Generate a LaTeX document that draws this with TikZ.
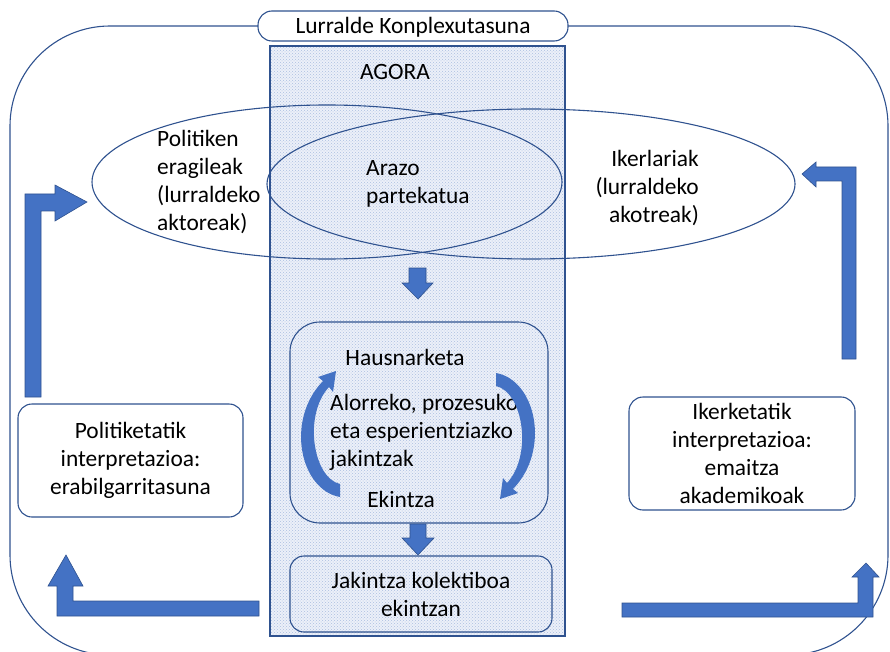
\documentclass[tikz,border=0pt]{standalone}
\usepackage{fontspec}
\setmainfont{Carlito}
\usepackage{tikz}
\usetikzlibrary{shapes.geometric, patterns, positioning}

\definecolor{linecol}{RGB}{47,82,143}
\definecolor{arrowfill}{RGB}{68,114,196}
\definecolor{agorafill}{RGB}{236,240,249}
\definecolor{dotcol}{RGB}{172,190,224}

\tikzset{
    outline/.style={draw=linecol, line width=1.1pt},
    roundbox/.style={outline, rounded corners=14pt, inner sep=0pt},
    txt/.style={inner sep=0pt, font=\fontsize{23.4}{28}\selectfont},
    blockarrow/.style={fill=arrowfill, draw=linecol, line width=0.6pt}
}

\begin{document}
\begin{tikzpicture}[x=1pt, y=-1pt]
        \useasboundingbox (0,0) rectangle (890,652);

        % big frame and agora column
        \draw[outline, rounded corners=100pt] (10,26) rectangle (888,655);
        \fill[agorafill] (270,46) rectangle (565,636);
        \fill[pattern=crosshatch dots, pattern color=dotcol] (270,46) rectangle (565,636);
        \draw[outline] (270,46) rectangle (565,636);

        \node[roundbox, fill=white, minimum width=310pt, minimum height=30pt] (title) at (413,26) {};
        \node[txt] (titletext) at (413,27) {Lurralde Konplexutasuna};
        \node[txt] (agora) at (395,72) {AGORA};

        % actors
        \node[ellipse, outline, inner sep=0pt, minimum width=470pt, minimum height=154pt] (polit) at (327,182) {};
        \node[ellipse, outline, inner sep=0pt, minimum width=528pt, minimum height=150pt] (iker) at (531,184) {};
        \node[txt, anchor=west, align=left] (polittext) at (157,182) {Politiken\\eragileak\\(lurraldeko\\aktoreak)};
        \node[txt, anchor=east, align=right] (ikertext) at (699,188) {Ikerlariak\\(lurraldeko\\akotreak)};
        \node[txt, anchor=west, align=left] (arazo) at (366,184) {Arazo\\partekatua};

        % reflection / action loop
        \node[roundbox, rounded corners=30pt, minimum width=258pt, minimum height=201pt] (loop) at (419,422.5) {};
        \node[txt] (hausn) at (405,357) {Hausnarketa};
        \node[txt, anchor=west, align=left] (jakin) at (330,432) {Alorreko, prozesuko\\eta esperientziazko\\jakintzak};
        \node[txt] (ekin) at (401,499) {Ekintza};
        \fill[blockarrow, draw=none] (340,497) .. controls (300,490) and (285,420) .. (323,381) -- (318,377) -- (336,371) -- (333,392) -- (329,387) .. controls (303,415) and (313,478) .. (340,484) -- cycle;
        \fill[blockarrow, draw=none, rotate around={180:(418,435)}] (340,497) .. controls (300,490) and (285,420) .. (323,381) -- (318,377) -- (336,371) -- (333,392) -- (329,387) .. controls (303,415) and (313,478) .. (340,484) -- cycle;

        \node[roundbox, minimum width=262pt, minimum height=76pt, txt, align=center] (kolek) at (421,594) {Jakintza kolektiboa\\ekintzan};

        % down arrows
        \draw[blockarrow] (409,268) -- (426,268) -- (426,283) -- (433,283) -- (418,299) -- (402,283) -- (409,283) -- cycle;
        \draw[blockarrow] (410,524) -- (426,524) -- (426,538) -- (434,538) -- (418,555) -- (402,538) -- (410,538) -- cycle;

        % interpretations
        \node[roundbox, fill=white, minimum width=225pt, minimum height=113pt, txt, align=center] (politint) at (130.5,460.5) {Politiketatik\\interpretazioa:\\erabilgarritasuna};
        \node[roundbox, fill=white, minimum width=226pt, minimum height=113pt, txt, align=center] (ikerint) at (742,453.5) {Ikerketatik\\interpretazioa:\\emaitza\\akademikoak};

        % feedback arrows
        \draw[blockarrow] (25,397) -- (25,194) -- (55,194) -- (55,185) -- (87,202) -- (55,221) -- (55,211) -- (41,211) -- (41,397) -- cycle;
        \draw[blockarrow] (856,359) -- (856,167) -- (816,167) -- (816,162) -- (802,174) -- (816,187) -- (816,181) -- (842,181) -- (842,359) -- cycle;
        \draw[blockarrow] (259,601) -- (73,601) -- (73,586) -- (83,586) -- (66,555) -- (48,586) -- (57,586) -- (57,616) -- (259,616) -- cycle;
        \draw[blockarrow] (622,603) -- (858,603) -- (858,577) -- (852,577) -- (866,563) -- (879,577) -- (873,577) -- (873,617) -- (622,617) -- cycle;
\end{tikzpicture}
\end{document}
